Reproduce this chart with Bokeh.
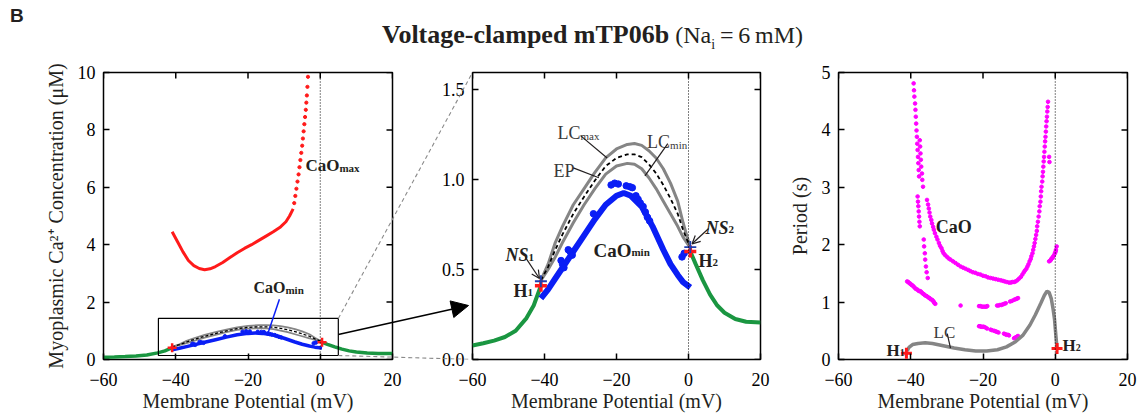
import math
from bokeh.plotting import figure
from bokeh.layouts import row, column
from bokeh.models import (Range1d, FixedTicker, Label, Arrow, NormalHead,
                          OpenHead, Span, Div, PrintfTickFormatter, BoxAnnotation)
from bokeh.embed import file_html
from bokeh.resources import INLINE

# ---------------------------------------------------------------- data
x_ticks = [-60, -40, -20, 0, 20]
ca_y_ticks = [0, 2, 4, 6, 8, 10]
zoom_y_ticks = [0.0, 0.5, 1.0, 1.5]
period_y_ticks = [0, 1, 2, 3, 4, 5]

# stable equilibrium (green)
ep_lo_x = [-60, -57, -54, -51, -48, -45, -43, -41]
ep_lo_y = [0.078, 0.09, 0.105, 0.125, 0.16, 0.23, 0.30, 0.41]
ep_hi_x = [0.5, 2, 4, 6, 8, 10, 13, 16, 20]
ep_hi_y = [0.60, 0.53, 0.44, 0.36, 0.30, 0.26, 0.225, 0.21, 0.205]

# unstable EP (dashed) and limit cycle max/min (gray)
curve_x = [-41, -39, -37, -35, -32, -29, -26, -23, -20, -17, -15, -13, -11, -9, -7, -5, -3, -1.5, 0.5]
lc_max_y = [0.44, 0.53, 0.65, 0.74, 0.86, 0.95, 1.04, 1.12, 1.17, 1.195, 1.20, 1.19, 1.16, 1.12, 1.06, 0.98, 0.88, 0.76, 0.62]
ep_un_y = [0.44, 0.515, 0.61, 0.695, 0.81, 0.905, 0.995, 1.075, 1.12, 1.14, 1.14, 1.125, 1.085, 1.035, 0.97, 0.895, 0.81, 0.72, 0.62]
lc_min_y = [0.44, 0.50, 0.57, 0.65, 0.76, 0.86, 0.95, 1.03, 1.075, 1.09, 1.085, 1.06, 1.01, 0.95, 0.88, 0.81, 0.74, 0.68, 0.62]

# CaO min (blue)
cao_min_x = [-41, -39, -37, -35, -32, -29, -26, -23, -20, -18, -16, -13, -10, -7, -5, -3, -1.5, 0.5]
cao_min_y = [0.34, 0.39, 0.45, 0.51, 0.60, 0.69, 0.78, 0.86, 0.91, 0.925, 0.91, 0.85, 0.74, 0.61, 0.53, 0.47, 0.43, 0.40]
cao_min_dot_x = [-21.5, -20.5, -19.5, -17.3, -16.3, -15.6, -14.6, -14.0, -13.4, -12.6, -12.0, -11.4, -10.8,
                 -26.4, -33.4, -32.9, -32.3, -35.4, -35.0, -34.6, -1.8, -1.2]
cao_min_dot_y = [0.97, 0.98, 0.975, 0.965, 0.96, 0.955, 0.91, 0.89, 0.87, 0.85, 0.82, 0.79, 0.77,
                 0.81, 0.61, 0.60, 0.58, 0.55, 0.53, 0.51, 0.57, 0.59]

# CaO max (red)
cao_max_x = [-41, -39.5, -38, -36.5, -35, -33.5, -32, -30.5, -29, -27, -25, -23, -21, -19, -17, -15, -13, -11, -9.5, -8.5, -7.5]
cao_max_y = [4.45, 4.10, 3.75, 3.45, 3.27, 3.17, 3.13, 3.16, 3.24, 3.38, 3.55, 3.72, 3.87, 4.00, 4.15, 4.30, 4.45, 4.62, 4.80, 5.00, 5.25]
cao_max_dot_x = [-7.2, -6.9, -6.6, -6.3, -6.0, -5.75, -5.5, -5.25, -5.0, -4.8, -4.6, -4.4, -4.2, -4.0, -3.85, -3.7, -3.55, -3.4]
cao_max_dot_y = [5.45, 5.7, 5.95, 6.2, 6.45, 6.7, 6.95, 7.2, 7.45, 7.7, 7.95, 8.2, 8.45, 8.7, 8.95, 9.2, 9.5, 9.85]

# Hopf points (red) and neutral saddles (blue)
hopf_x = [-41, 0.5]
hopf_y = [0.41, 0.60]
ns_x = [-41, 0.5]
ns_y = [0.435, 0.625]

# period panel
lc_per_x = [-41, -40.5, -39.5, -38, -36, -34, -31, -28, -25, -22, -19, -16, -13.5, -11, -9, -7, -5.5, -4, -3, -2.3, -1.7, -1.1, -0.6, -0.2, 0.2, 0.5]
lc_per_y = [0.15, 0.21, 0.26, 0.28, 0.29, 0.28, 0.24, 0.20, 0.17, 0.15, 0.15, 0.17, 0.22, 0.31, 0.42, 0.60, 0.78, 0.98, 1.12, 1.19, 1.17, 1.06, 0.88, 0.70, 0.40, 0.19]
hopf_per_x = [-41.2, 0.5]
hopf_per_y = [0.11, 0.19]
cao_per_x = [
    -39.2, -39.1, -39.0, -38.8, -38.7, -38.6, -38.5, -38.4, -38.3, -38.2, -38.1, -38.0, -37.9, -37.8, -37.7,
    -37.5, -37.4, -37.3, -37.2, -37.1, -36.9, -36.8, -36.6,
    -38.1, -38.0, -37.9, -37.8, -37.7, -37.6, -37.5,
    -36.4, -36.3, -36.1, -36.0, -35.8, -35.6, -35.3,
    -35.5, -35.2, -35.0, -34.8, -34.6, -34.3, -34.1, -33.8, -33.6, -33.3, -32.9, -32.6, -32.2, -31.9,
    -31.5, -31.2, -30.9, -30.5, -30.0, -29.5, -29.0, -28.3, -27.6, -26.9, -26.2, -25.5, -24.8, -24.1,
    -23.5, -22.8, -22.1, -21.4, -20.7, -20.0, -19.3, -18.6, -17.9, -17.2, -16.5, -15.8, -15.1, -14.5,
    -14.0, -13.4, -12.8, -12.3, -11.9, -11.4, -11.0, -10.5, -10.0, -9.5, -9.1, -8.7, -8.4, -8.0, -7.7,
    -7.4, -7.1, -6.8, -6.6, -6.3, -6.1, -5.9, -5.7, -5.5, -5.3, -5.1, -5.0, -4.8, -4.6, -4.4, -4.3, -4.1,
    -4.0, -3.9, -3.8, -3.6, -3.5, -3.4, -3.3, -3.2, -3.1, -3.0, -2.9, -2.8, -2.7, -2.6, -2.5, -2.4, -2.3,
    -2.2, -2.1, -2.0, -1.7, -1.6,
    -41.0, -40.7, -40.4, -40.1, -39.8, -39.5, -39.2, -38.9, -38.6, -38.2, -37.9, -37.6, -37.3, -37.0,
    -36.7, -36.4, -36.1, -35.8, -35.5, -35.1, -34.8, -34.5, -34.1, -33.8, -33.6, -33.4, -33.2,
    -26.2, -21.1, -20.7, -20.3, -19.9, -19.5, -19.1, -18.8, -16.1, -15.7, -15.3, -14.9, -14.5, -14.1,
    -13.7, -12.5, -12.0, -11.4, -11.0, -10.6, -10.3,
    -21.1, -20.8, -20.5, -20.1, -19.8, -19.4, -18.9, -17.9, -17.5, -16.9, -16.5, -16.1, -15.7, -14.2,
    -13.8, -13.5, -13.1, -12.8, -11.4, -11.1, -10.8, -10.5, -10.3,
    -1.7, -1.4, -1.2, -1.0, -0.8, -0.6, -0.4, -0.1, 0.1, 0.2, 0.4]
cao_per_y = [
    4.81, 4.69, 4.58, 4.46, 4.35, 4.23, 4.11, 3.99, 3.88, 3.76, 3.65, 3.53, 3.42, 3.30, 3.19,
    3.82, 3.71, 3.59, 3.48, 3.36, 3.24, 3.13, 3.01,
    2.84, 2.75, 2.67, 2.58, 2.49, 2.40, 2.32,
    2.09, 1.97, 1.85, 1.74, 1.62, 1.52, 1.42,
    2.78, 2.70, 2.63, 2.56, 2.49, 2.43, 2.37, 2.31, 2.26, 2.20, 2.14, 2.09, 2.03, 1.98,
    1.94, 1.89, 1.85, 1.82, 1.79, 1.76, 1.74, 1.71, 1.68, 1.65, 1.62, 1.60, 1.58, 1.56,
    1.54, 1.52, 1.51, 1.49, 1.48, 1.46, 1.45, 1.43, 1.42, 1.41, 1.40, 1.39, 1.38, 1.37,
    1.36, 1.35, 1.34, 1.34, 1.35, 1.35, 1.36, 1.38, 1.41, 1.44, 1.48, 1.52, 1.55, 1.58, 1.62,
    1.66, 1.71, 1.75, 1.80, 1.85, 1.91, 1.97, 2.03, 2.10, 2.17, 2.24, 2.32, 2.40, 2.49, 2.58, 2.67, 2.75,
    2.84, 2.93, 3.01, 3.10, 3.19, 3.27, 3.36, 3.45, 3.53, 3.62, 3.71, 3.80, 3.88, 3.97, 4.06, 4.15, 4.23,
    4.32, 4.40, 4.49, 3.53, 3.44,
    1.36, 1.35, 1.33, 1.32, 1.30, 1.29, 1.27, 1.25, 1.23, 1.22, 1.20, 1.19, 1.19, 1.17,
    1.15, 1.14, 1.12, 1.11, 1.10, 1.08, 1.07, 1.05, 1.04, 1.02, 1.00, 0.98, 0.97,
    0.94, 0.93, 0.93, 0.92, 0.92, 0.92, 0.92, 0.93, 0.94, 0.94, 0.95, 0.95, 0.96, 0.97,
    0.98, 1.01, 1.02, 1.04, 1.05, 1.06, 1.07,
    0.58, 0.58, 0.57, 0.57, 0.57, 0.56, 0.54, 0.52, 0.51, 0.50, 0.49, 0.48, 0.47, 0.45,
    0.44, 0.43, 0.43, 0.42, 0.37, 0.38, 0.39, 0.40, 0.41,
    1.71, 1.72, 1.74, 1.76, 1.77, 1.79, 1.81, 1.85, 1.88, 1.91, 1.97]

# ---------------------------------------------------------------- layout
FONT = "Liberation Serif"
INK = "#231f20"
DIV_H = 62
FIG_H = 354
TOP_B, BOT_B = 10, 57
FH = FIG_H - TOP_B - BOT_B
TOP = DIV_H + TOP_B

PANELS = {
    1: dict(off=0, w=420, left=103, right=28, xr=(-60, 20), yr=(0, 10)),
    2: dict(off=420, w=360, left=52, right=20, xr=(-60, 20), yr=(0, 1.595)),
    3: dict(off=780, w=365, left=58, right=18, xr=(-60, 20), yr=(0, 5)),
}
OVER_X = (330, 480)   # canvas span of the connector overlay


def fw(k):
    c = PANELS[k]
    return c["w"] - c["left"] - c["right"]


def to_canvas(k, x, y):
    c = PANELS[k]
    (x0, x1), (y0, y1) = c["xr"], c["yr"]
    cx = c["off"] + c["left"] + (x - x0) / (x1 - x0) * fw(k)
    cy = TOP + (y1 - y) / (y1 - y0) * FH
    return cx, cy


def style_axis(ax):
    ax.major_tick_in = 6
    ax.major_tick_out = 0
    ax.minor_tick_line_color = None
    ax.major_tick_line_color = "black"
    ax.major_tick_line_width = 1.5
    ax.axis_line_color = None
    ax.major_label_text_font = FONT
    ax.major_label_text_color = "black"
    ax.major_label_text_font_size = "18px"
    ax.major_label_standoff = 8
    ax.axis_label_text_font = FONT
    ax.axis_label_text_font_size = "20px"
    ax.axis_label_text_font_style = "normal"
    ax.axis_label_text_color = INK


def make_fig(k, yticks, ylabel=None, yfmt=None):
    c = PANELS[k]
    p = figure(width=c["w"], height=FIG_H, x_range=Range1d(*c["xr"]), y_range=Range1d(*c["yr"]),
               output_backend="svg", toolbar_location=None,
               min_border_left=c["left"], min_border_right=c["right"],
               min_border_top=TOP_B, min_border_bottom=BOT_B)
    p.xgrid.visible = False
    p.ygrid.visible = False
    p.outline_line_color = "black"
    p.outline_line_width = 1.5
    p.outline_line_alpha = 1
    p.xaxis.ticker = FixedTicker(ticks=x_ticks)
    p.yaxis.ticker = FixedTicker(ticks=yticks)
    if yfmt:
        p.yaxis.formatter = PrintfTickFormatter(format=yfmt)
    p.xaxis.axis_label = "Membrane Potential (mV)"
    if ylabel:
        p.yaxis.axis_label = ylabel
    for ax in p.xaxis:
        style_axis(ax)
        ax.major_label_standoff = 13
        ax.axis_label_standoff = 1
    for ax in p.yaxis:
        style_axis(ax)
        ax.axis_label_standoff = 8
    # mirrored inward ticks on top and right edges (half of each dash is clipped by the frame)
    p.scatter(x_ticks, [c["yr"][1]] * len(x_ticks), marker="dash", angle=math.pi / 2,
              size=12, line_color="black", line_width=1.5)
    p.scatter([c["xr"][1]] * len(yticks), yticks, marker="dash", size=12,
              line_color="black", line_width=1.5)
    p.add_layout(Span(location=0, dimension="height", line_color="black",
                      line_width=1, line_dash="1 2"))
    return p


def txt(p, x, y, s, size, style="bold", color=INK, xo=0, yo=0):
    p.add_layout(Label(x=x, y=y, text=s, text_font=FONT, text_font_size=f"{size}px",
                       text_font_style=style, text_color=color, x_offset=xo, y_offset=yo,
                       text_baseline="alphabetic", text_align="left"))


def sub_txt(p, x, y, main, sub, size, subsize, main_em, style="bold", sub_style="bold", color=INK, drop=2):
    txt(p, x, y, main, size, style, color)
    txt(p, x, y, sub, subsize, sub_style, color, xo=main_em * size, yo=-drop)


def pointer(p, x0, y0, x1, y1, color=INK, width=1.2, head=None):
    p.add_layout(Arrow(x_start=x0, y_start=y0, x_end=x1, y_end=y1, end=head,
                       line_color=color, line_width=width))


GRAY = "#858585"
GREEN = "#1a9641"
BLUE = "#0a1ef5"
RED = "#ff1a1a"
MAGENTA = "#ff00ff"

# ---------------------------------------------------------------- panel 1
p1 = make_fig(1, ca_y_ticks, "Myoplasmic Ca\u00b2\u207a Concentration (\u03bcM)")
p1.line(ep_lo_x, ep_lo_y, line_color=GREEN, line_width=3.5)
p1.line(ep_hi_x, ep_hi_y, line_color=GREEN, line_width=3.5)
p1.line(curve_x, lc_max_y, line_color=GRAY, line_width=1.8)
p1.line(curve_x, lc_min_y, line_color=GRAY, line_width=1.8)
p1.line(curve_x, ep_un_y, line_color="black", line_width=1.3, line_dash="3 2")
p1.line(cao_min_x, cao_min_y, line_color=BLUE, line_width=3.5)
p1.scatter(cao_min_dot_x, cao_min_dot_y, size=3.5, color=BLUE)
p1.line(cao_max_x, cao_max_y, line_color=RED, line_width=3)
p1.scatter(cao_max_dot_x, cao_max_dot_y, size=3.2, color=RED)
p1.scatter(hopf_x, hopf_y, marker="cross", size=9, line_color=RED, line_width=2.5)
zoom_box = dict(left=-44.8, right=5, bottom=0.14, top=1.43)
p1.add_layout(BoxAnnotation(fill_color=None, line_color="black", line_alpha=1, line_width=1.2, **zoom_box))
sub_txt(p1, -4.1, 6.75, "CaO", "max", 17, 11, 2.0)
sub_txt(p1, -18.5, 2.5, "CaO", "min", 16, 11, 2.0)
pointer(p1, -11.3, 2.1, -14.6, 0.87, color=BLUE, width=1.5)

# ---------------------------------------------------------------- panel 2
p2 = make_fig(2, zoom_y_ticks, None, "%.1f")
p2.line(ep_lo_x, ep_lo_y, line_color=GREEN, line_width=4)
p2.line(ep_hi_x, ep_hi_y, line_color=GREEN, line_width=4)
p2.line(curve_x, lc_max_y, line_color=GRAY, line_width=3)
p2.line(curve_x, lc_min_y, line_color=GRAY, line_width=3)
p2.line(curve_x, ep_un_y, line_color="black", line_width=1.8, line_dash="4 3")
p2.line(cao_min_x, cao_min_y, line_color=BLUE, line_width=6)
p2.scatter(cao_min_dot_x, cao_min_dot_y, size=6.5, color=BLUE)
p2.scatter(hopf_x, hopf_y, marker="cross", size=12, line_color=RED, line_width=3.5)
p2.scatter(ns_x, ns_y, marker="cross", size=12, line_color="#1f3fb0", line_width=1.8)

sub_txt(p2, -36.4, 1.26, "LC", "max", 18, 11, 1.278, "normal", "normal", "#3a3a3a", 3)
pointer(p2, -30.0, 1.244, -22.6, 1.12)
txt(p2, -37.5, 1.045, "EP", 18, "normal", "#3a3a3a")
pointer(p2, -32.0, 1.065, -24.9, 1.01)
sub_txt(p2, -11.5, 1.21, "LC", "min", 18, 11, 1.278, "normal", "normal", "#3a3a3a", 3)
pointer(p2, -5.75, 1.20, -12.1, 1.02)
sub_txt(p2, -50.8, 0.578, "NS", "1", 18, 11, 1.278, "bold italic", "bold")
pointer(p2, -45.3, 0.568, -41.4, 0.45, head=OpenHead(size=8, line_color=INK, line_width=1.2))
sub_txt(p2, -48.6, 0.383, "H", "1", 18, 11, 0.778)
sub_txt(p2, -26.4, 0.606, "CaO", "min", 19, 11, 2.0)
sub_txt(p2, 4.7, 0.733, "NS", "2", 18, 11, 1.278, "bold italic", "bold")
pointer(p2, 5.6, 0.728, 1.0, 0.643, head=OpenHead(size=8, line_color=INK, line_width=1.2))
sub_txt(p2, 2.8, 0.55, "H", "2", 18, 11, 0.778)

# ---------------------------------------------------------------- panel 3
p3 = make_fig(3, period_y_ticks, "Period (s)")
p3.scatter(cao_per_x, cao_per_y, size=3.6, color=MAGENTA)
p3.line(lc_per_x, lc_per_y, line_color=GRAY, line_width=3.5)
p3.scatter(hopf_per_x, hopf_per_y, marker="cross", size=11, line_color=RED, line_width=3)
txt(p3, -33.1, 2.30, "CaO", 18)
txt(p3, -33.7, 0.47, "LC", 17, "normal", "#3a3a3a")
pointer(p3, -29.9, 0.45, -29.0, 0.20)
sub_txt(p3, -46.7, 0.16, "H", "1", 17, 10, 0.778)
sub_txt(p3, 2.0, 0.24, "H", "2", 17, 10, 0.778)

# ---------------------------------------------------------------- connector overlay (transparent figure over panels 1-2)
# its frame uses the same vertical borders as the panels, so canvas y in [TOP, TOP+FH] maps onto it
pc = figure(width=OVER_X[1] - OVER_X[0], height=FIG_H, x_range=Range1d(*OVER_X),
            y_range=Range1d(TOP + FH, TOP), output_backend="svg", toolbar_location=None,
            x_axis_type=None, y_axis_type=None,
            min_border_left=0, min_border_right=0, min_border_top=TOP_B, min_border_bottom=BOT_B,
            background_fill_color=None, border_fill_color=None, outline_line_color=None,
            margin=(0, 0, 0, OVER_X[0] - 1145))
pc.title.visible = False
pc.xgrid.visible = False
pc.ygrid.visible = False

connectors = [
    ((1, zoom_box["right"], zoom_box["top"]), (2, -60, 1.595), True),
    ((1, zoom_box["right"], zoom_box["bottom"]), (2, -60, 0.0), True),
    ((1, zoom_box["right"], 0.87), (2, -61.1, 0.30), False),
]
for a, b, dashed in connectors:
    ax_, ay_ = to_canvas(*a)
    bx_, by_ = to_canvas(*b)
    if dashed:
        pc.add_layout(Arrow(x_start=ax_, y_start=ay_, x_end=bx_, y_end=by_, end=None,
                            line_color="#8a8a8a", line_width=1.1, line_dash="4 3"))
    else:
        pc.add_layout(Arrow(x_start=ax_, y_start=ay_, x_end=bx_, y_end=by_,
                            end=NormalHead(size=17, fill_color="black", line_color="black"),
                            line_color="black", line_width=1.6))

# ---------------------------------------------------------------- title
title_html = (
    '<div style="position:relative;width:1145px;height:62px;color:#231f20;">'
    '<span style="position:absolute;left:10px;top:6px;font-family:\'Liberation Sans\';'
    'font-weight:bold;font-size:19px;line-height:1;">B</span>'
    '<span style="position:absolute;left:382px;top:22px;white-space:nowrap;line-height:1;'
    'font-family:\'Liberation Serif\';">'
    '<b style="font-size:26px;">Voltage-clamped mTP06b</b>'
    '<span style="font-size:24px;"> (Na<sub style="font-size:14px;">i</sub>\u2009=\u20096\u2009mM)</span>'
    '</span></div>'
)
title = Div(text=title_html, width=1145, height=DIV_H, margin=(0, 0, 0, 0))

layout = column(title, row(p1, p2, p3, pc, spacing=0), spacing=0)
open("out.html", "w").write(file_html(layout, INLINE))
